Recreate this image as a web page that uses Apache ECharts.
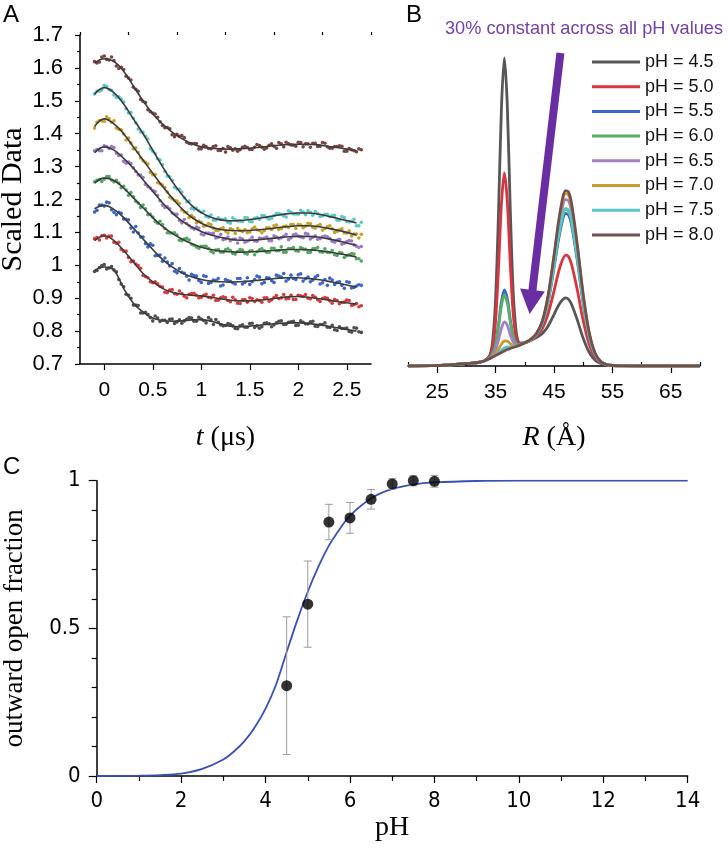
<!DOCTYPE html>
<html><head><meta charset="utf-8">
<script src="https://cdn.jsdelivr.net/npm/echarts@6/dist/echarts.min.js"></script>
<style>html,body{margin:0;padding:0;background:#fff}#c{width:728px;height:860px}</style>
</head><body><div id="c"></div>
<script>
// ---------- Panel A: DEER traces ----------
const tFit = [-0.1,0,0.1,0.2,0.3,0.4,0.5,0.6,0.7,0.8,0.9,1.0,1.1,1.2,1.3,1.4,1.5,1.6,1.7,1.8,1.9,2.0,2.1,2.2,2.3,2.4,2.5,2.6];
const tDots = [-0.1,-0.05,0,0.05,0.1,0.15,0.2,0.25,0.3,0.35,0.4,0.45,0.5,0.55,0.6,0.65,0.7,0.75,0.8,0.85,0.9,0.95,1.0,1.05,1.1,1.15,1.2,1.25,1.3,1.35,1.4,1.45,1.5,1.55,1.6,1.65,1.7,1.75,1.8,1.85,1.9,1.95,2.0,2.05,2.1,2.15,2.2,2.25,2.3,2.35,2.4,2.45,2.5,2.55,2.6,2.65];
const tDots2 = [-0.075,-0.025,0.025,0.075,0.125,0.175,0.225,0.275,0.325,0.375,0.425,0.475,0.525,0.575,0.625,0.675,0.725,0.775,0.825,0.875,0.925,0.975,1.025,1.075,1.125,1.175,1.225,1.275,1.325,1.375,1.425,1.475,1.525,1.575,1.625,1.675,1.725,1.775,1.825,1.875,1.925,1.975,2.025,2.075,2.125,2.175,2.225,2.275,2.325,2.375,2.425,2.475,2.525,2.575,2.625];
const tTicks = [0,0.5,1,1.5,2,2.5];
const tMinor = [-0.25,0.25,0.75,1.25,1.75,2.25,2.75];

const fit80 = [1.615,1.628,1.62,1.59,1.545,1.50,1.46,1.43,1.405,1.385,1.37,1.36,1.356,1.354,1.353,1.354,1.356,1.359,1.362,1.365,1.367,1.368,1.368,1.366,1.362,1.358,1.353,1.348];
const fit75 = [1.52,1.54,1.525,1.49,1.445,1.40,1.35,1.30,1.255,1.215,1.182,1.16,1.146,1.138,1.135,1.136,1.139,1.143,1.148,1.153,1.157,1.159,1.159,1.156,1.15,1.143,1.136,1.129];
const fit70 = [1.422,1.445,1.43,1.40,1.36,1.32,1.28,1.24,1.205,1.172,1.146,1.128,1.116,1.109,1.106,1.105,1.106,1.108,1.111,1.115,1.118,1.12,1.12,1.118,1.113,1.107,1.10,1.092];
const fit65 = [1.342,1.36,1.35,1.325,1.295,1.26,1.225,1.19,1.16,1.135,1.117,1.103,1.092,1.085,1.079,1.076,1.076,1.078,1.081,1.084,1.087,1.088,1.088,1.086,1.081,1.075,1.068,1.061];
const fit60 = [1.25,1.265,1.258,1.235,1.205,1.175,1.145,1.118,1.097,1.08,1.066,1.055,1.048,1.043,1.041,1.04,1.041,1.042,1.044,1.046,1.048,1.048,1.047,1.045,1.041,1.036,1.031,1.025];
const fit55 = [1.172,1.182,1.17,1.145,1.113,1.08,1.048,1.018,0.995,0.977,0.965,0.957,0.952,0.95,0.949,0.95,0.952,0.955,0.958,0.961,0.962,0.962,0.96,0.957,0.952,0.946,0.94,0.934];
const fit50 = [1.075,1.09,1.075,1.045,1.01,0.975,0.95,0.93,0.918,0.912,0.909,0.907,0.903,0.898,0.894,0.892,0.892,0.894,0.897,0.901,0.904,0.905,0.903,0.899,0.895,0.89,0.886,0.882];
const fit45 = [0.985,0.995,0.985,0.93,0.885,0.858,0.84,0.832,0.83,0.831,0.834,0.835,0.83,0.822,0.815,0.813,0.815,0.818,0.821,0.823,0.825,0.825,0.823,0.82,0.815,0.81,0.805,0.80];

const dots80 = [1.619,1.618,1.636,1.624,1.622,1.598,1.595,1.569,1.541,1.529,1.498,1.473,1.463,1.45,1.425,1.419,1.397,1.398,1.394,1.374,1.369,1.37,1.354,1.361,1.354,1.363,1.349,1.344,1.357,1.354,1.351,1.362,1.352,1.359,1.364,1.353,1.365,1.362,1.373,1.36,1.369,1.365,1.374,1.36,1.369,1.371,1.361,1.373,1.36,1.356,1.361,1.362,1.347,1.351,1.345,1.351];
const dots80b = [1.615,1.633,1.626,1.633,1.606,1.602,1.575,1.563,1.535,1.504,1.495,1.467,1.46,1.436,1.418,1.415,1.391,1.392,1.388,1.37,1.37,1.354,1.365,1.355,1.361,1.349,1.355,1.361,1.35,1.347,1.359,1.358,1.352,1.367,1.359,1.357,1.369,1.356,1.369,1.374,1.366,1.362,1.373,1.369,1.359,1.371,1.362,1.371,1.356,1.361,1.363,1.347,1.355,1.348,1.354];
const dots75 = [1.521,1.529,1.547,1.534,1.518,1.512,1.496,1.463,1.447,1.414,1.404,1.384,1.347,1.324,1.306,1.271,1.258,1.232,1.223,1.193,1.173,1.174,1.161,1.149,1.153,1.137,1.14,1.141,1.128,1.138,1.135,1.145,1.133,1.143,1.14,1.151,1.14,1.151,1.157,1.15,1.166,1.156,1.155,1.162,1.166,1.152,1.157,1.15,1.155,1.151,1.137,1.148,1.133,1.134,1.12,1.131];
const dots75b = [1.53,1.533,1.544,1.532,1.51,1.505,1.476,1.465,1.433,1.405,1.392,1.354,1.34,1.32,1.285,1.269,1.237,1.231,1.205,1.195,1.17,1.166,1.164,1.146,1.137,1.144,1.139,1.131,1.144,1.135,1.133,1.144,1.132,1.145,1.151,1.145,1.143,1.157,1.155,1.147,1.162,1.156,1.167,1.154,1.161,1.163,1.148,1.155,1.148,1.152,1.137,1.145,1.132,1.14,1.12];
const dots70 = [1.417,1.44,1.437,1.445,1.439,1.413,1.399,1.387,1.354,1.343,1.318,1.308,1.275,1.251,1.244,1.223,1.202,1.195,1.168,1.16,1.151,1.129,1.131,1.12,1.124,1.106,1.111,1.104,1.112,1.097,1.106,1.109,1.101,1.116,1.106,1.105,1.114,1.12,1.109,1.118,1.115,1.124,1.124,1.114,1.128,1.116,1.12,1.107,1.118,1.111,1.103,1.111,1.098,1.089,1.095,1.094];
const dots70b = [1.435,1.439,1.451,1.435,1.417,1.412,1.381,1.372,1.357,1.326,1.313,1.282,1.276,1.248,1.236,1.207,1.197,1.188,1.162,1.145,1.145,1.134,1.119,1.127,1.113,1.106,1.114,1.098,1.108,1.112,1.103,1.099,1.111,1.108,1.099,1.114,1.109,1.122,1.111,1.119,1.124,1.112,1.123,1.119,1.126,1.113,1.124,1.112,1.12,1.1,1.108,1.098,1.104,1.095,1.083];
const dots65 = [1.348,1.348,1.363,1.355,1.358,1.334,1.316,1.314,1.296,1.275,1.267,1.239,1.227,1.212,1.183,1.178,1.159,1.155,1.129,1.127,1.114,1.116,1.095,1.098,1.096,1.083,1.094,1.08,1.075,1.08,1.083,1.07,1.077,1.074,1.083,1.083,1.075,1.09,1.081,1.088,1.078,1.093,1.089,1.084,1.095,1.085,1.079,1.087,1.087,1.073,1.077,1.064,1.072,1.074,1.058,1.057];
const dots65b = [1.352,1.348,1.361,1.361,1.341,1.335,1.31,1.309,1.285,1.274,1.246,1.235,1.224,1.196,1.176,1.172,1.156,1.136,1.139,1.12,1.11,1.113,1.092,1.098,1.097,1.085,1.078,1.086,1.079,1.068,1.08,1.073,1.085,1.073,1.081,1.086,1.075,1.086,1.084,1.094,1.083,1.095,1.086,1.097,1.08,1.09,1.081,1.089,1.081,1.07,1.079,1.067,1.075,1.062,1.054];
const dots60 = [1.254,1.261,1.262,1.27,1.254,1.25,1.24,1.213,1.208,1.189,1.183,1.154,1.147,1.128,1.124,1.099,1.098,1.092,1.075,1.082,1.064,1.056,1.058,1.058,1.042,1.046,1.04,1.047,1.045,1.034,1.048,1.037,1.043,1.032,1.047,1.044,1.04,1.052,1.044,1.04,1.051,1.054,1.043,1.05,1.039,1.05,1.054,1.04,1.04,1.045,1.03,1.037,1.029,1.036,1.02,1.013];
const dots60b = [1.258,1.255,1.27,1.259,1.258,1.236,1.229,1.221,1.195,1.176,1.172,1.155,1.133,1.134,1.112,1.098,1.099,1.076,1.08,1.077,1.061,1.052,1.058,1.051,1.038,1.048,1.04,1.05,1.036,1.042,1.046,1.034,1.044,1.041,1.05,1.039,1.052,1.044,1.056,1.04,1.051,1.044,1.054,1.049,1.04,1.051,1.041,1.05,1.039,1.032,1.039,1.024,1.032,1.034,1.02];
const dots55 = [1.162,1.183,1.18,1.19,1.161,1.161,1.141,1.138,1.101,1.098,1.086,1.056,1.061,1.03,1.012,1.01,1.005,0.977,0.979,0.967,0.973,0.967,0.948,0.966,0.948,0.954,0.937,0.957,0.951,0.943,0.96,0.948,0.942,0.957,0.964,0.948,0.961,0.948,0.967,0.975,0.958,0.96,0.971,0.952,0.964,0.955,0.969,0.947,0.939,0.955,0.948,0.939,0.95,0.931,0.937,0.939];
const dots55b = [1.167,1.183,1.192,1.169,1.154,1.158,1.14,1.113,1.118,1.086,1.066,1.065,1.029,1.031,1.022,0.998,0.982,0.99,0.976,0.955,0.969,0.954,0.968,0.945,0.955,0.96,0.94,0.954,0.947,0.96,0.943,0.962,0.95,0.967,0.944,0.962,0.953,0.97,0.964,0.952,0.97,0.957,0.974,0.959,0.95,0.964,0.943,0.957,0.961,0.942,0.95,0.93,0.948,0.933,0.941];
const dots50 = [1.081,1.077,1.091,1.089,1.07,1.07,1.043,1.024,1.013,0.999,0.969,0.962,0.947,0.944,0.934,0.917,0.926,0.912,0.914,0.901,0.914,0.909,0.903,0.912,0.901,0.893,0.901,0.902,0.889,0.895,0.884,0.896,0.901,0.89,0.893,0.901,0.891,0.902,0.899,0.911,0.899,0.896,0.909,0.905,0.9,0.908,0.895,0.899,0.9,0.885,0.893,0.887,0.894,0.878,0.884,0.877];
const dots50b = [1.084,1.09,1.083,1.089,1.067,1.049,1.043,1.011,1.004,0.991,0.966,0.95,0.95,0.936,0.918,0.925,0.914,0.922,0.906,0.912,0.915,0.901,0.909,0.903,0.909,0.894,0.904,0.893,0.903,0.885,0.895,0.888,0.899,0.895,0.888,0.901,0.895,0.908,0.901,0.898,0.909,0.896,0.907,0.911,0.898,0.903,0.89,0.902,0.892,0.896,0.883,0.888,0.893,0.88,0.874];
const dots45 = [0.981,0.993,1.002,0.992,0.986,0.957,0.935,0.909,0.879,0.878,0.855,0.85,0.831,0.84,0.833,0.826,0.837,0.828,0.824,0.836,0.84,0.83,0.837,0.825,0.834,0.835,0.819,0.817,0.821,0.808,0.816,0.812,0.823,0.811,0.809,0.824,0.822,0.819,0.83,0.82,0.827,0.83,0.818,0.827,0.822,0.83,0.814,0.82,0.812,0.818,0.802,0.808,0.809,0.797,0.809,0.796];
const dots45b = [0.984,0.999,0.989,0.996,0.98,0.943,0.912,0.9,0.879,0.855,0.857,0.841,0.846,0.829,0.833,0.836,0.823,0.834,0.831,0.841,0.83,0.842,0.832,0.841,0.82,0.827,0.816,0.823,0.816,0.807,0.819,0.812,0.824,0.816,0.813,0.825,0.813,0.825,0.831,0.821,0.828,0.817,0.831,0.822,0.828,0.815,0.82,0.825,0.811,0.804,0.813,0.808,0.799,0.81,0.798];

// ---------- Panel B: distance distributions ----------
const rGrid = [20,24,27,29,31,32,33,34,34.5,35,35.5,36,36.5,37,37.5,38,38.5,39,40,41,42,43,44,45,46,47,47.5,48,49,50,51,52,53,54,55,57,60,65,70];
const rTicks = [25,35,45,55,65];
const rMinor = [20,30,40,50,60,70];
const dist45 = [0,0.3,1,2,2.8,3.5,5,10.7,25.1,67.6,153.8,257.9,308,260.9,159.3,75.6,35.6,23.7,23.1,25.5,28.4,32.4,40,51.4,62.8,68.1,66.6,61.7,45.9,27.7,14,6,2.5,1,0.4,0.1,0,0,0];
const dist50 = [0,0.3,1,2,2.8,3.5,5,9.5,18.8,45.2,98.2,162,193,165,103.7,53.2,29.3,22.5,23.2,25.9,30.1,37.4,52.3,74.9,98.5,110.8,109.3,101.9,75.7,45.2,22.1,8.9,3.3,1.2,0.5,0.1,0,0,0];
const dist55 = [0,0.3,1,2,2.8,3.5,5,8.2,12.4,22.4,41.5,64.4,76,67.4,47,30.4,22.9,21.2,23.3,26.3,31.7,42.3,64.3,97.9,133.4,152.5,151,141.2,104.9,62.2,29.9,11.7,4.2,1.4,0.5,0.1,0,0,0];
const dist60 = [0,0.3,1,2,2.8,3.5,5,8.1,12.1,21.4,39.1,60.2,71,63.2,44.6,29.4,22.6,21.1,23.3,26.3,31.8,42.7,65.4,100.1,136.7,156.5,155,144.9,107.7,63.8,30.7,12,4.2,1.4,0.5,0.1,0,0,0];
const dist65 = [0,0.3,1,2,2.8,3.5,5,7.8,10.6,16.2,26,37.7,44,40.7,31.5,24.2,21.1,20.8,23.3,26.4,32.2,43.9,68.3,105.6,145,166.5,165,154.3,114.6,67.9,32.6,12.7,4.4,1.5,0.5,0.1,0,0,0];
const dist70 = [0,0.3,1,2,2.8,3.5,5,7.6,9.6,12.5,16.8,21.8,25,24.8,22.3,20.5,20.1,20.6,23.3,26.5,32.4,44.6,70,108.8,150,172.4,170.9,159.9,118.8,70.3,33.7,13.1,4.5,1.5,0.5,0.1,0,0,0];
const dist75 = [0,0.3,1,2,2.8,3.5,5,7.5,9.2,11.1,13.5,16,18,19,19,19.1,19.7,20.5,23.3,26.4,31.9,42.9,65.7,100.6,137.5,157.5,156,145.8,108.4,64.2,30.9,12.1,4.2,1.4,0.5,0.1,0,0,0];
const dist80 = [0,0.3,1,2,2.8,3.5,5,7.5,9,10.5,12,13.5,15,16.5,17.5,18.5,19.5,20.5,23.3,26.5,32.5,44.9,70.8,110.5,152.5,175.4,173.9,162.7,120.8,71.6,34.2,13.3,4.6,1.5,0.5,0.1,0,0,0];
const legendNames = ['pH = 4.5','pH = 5.0','pH = 5.5','pH = 6.0','pH = 6.5','pH = 7.0','pH = 7.5','pH = 8.0'];

// ---------- Panel C: outward open fraction ----------
const pHpts = [4.5,5,5.5,6,6.5,7,7.5,8];
const fracPts = [0.306,0.582,0.86,0.874,0.937,0.989,1.0,0.998];
const fracErr = [0.233,0.146,0.06,0.052,0.033,0.018,0.017,0.02];
const pHfit = [0,0.5,1,1.5,2,2.5,3,3.25,3.5,3.75,4,4.25,4.5,4.75,5,5.25,5.5,5.75,6,6.5,7,7.5,8,9,10,11,12,13,14];
const fracFit = [0,0.0005,0.001,0.003,0.008,0.024,0.056,0.083,0.118,0.166,0.228,0.31,0.42,0.527,0.624,0.708,0.78,0.835,0.882,0.94,0.972,0.987,0.994,0.999,1,1,1,1,1];

const colors = ['#575757','#d8353d','#3c69c0','#5aae68','#a281c8','#c99a2c','#5cc4c8','#73504c'];
const dotColors = ['#4f4f4f','#d83a3a','#3c64c4','#52a85e','#9a7ac8','#c9a02a','#5cc8c8','#7a4440'];

const pairs = (xs, ys) => xs.map((x, i) => [x, ys[i]]);
const dotSets = [[dots45,dots45b],[dots50,dots50b],[dots55,dots55b],[dots60,dots60b],[dots65,dots65b],[dots70,dots70b],[dots75,dots75b],[dots80,dots80b]];
const fitSets = [fit45,fit50,fit55,fit60,fit65,fit70,fit75,fit80];
const distSets = [dist45,dist50,dist55,dist60,dist65,dist70,dist75,dist80];

const sans = 'Liberation Sans, Arial, sans-serif';
const serif = 'Liberation Serif, Times New Roman, serif';
const narrow = 'Liberation Sans Narrow, DejaVu Sans Condensed, Arial Narrow, sans-serif';
const axisLine = {show:true, onZero:false, lineStyle:{color:'#000', width:1.5}};

const series = [];
dotSets.forEach((d, k) => series.push({
  type:'scatter', xAxisIndex:0, yAxisIndex:0, name:'A'+k,
  data:pairs(tDots, d[0]).concat(pairs(tDots2, d[1])),
  symbolSize:3.6, itemStyle:{color:dotColors[k], opacity:1}, silent:true, z:2
}));
fitSets.forEach((d, k) => series.push({
  type:'line', xAxisIndex:0, yAxisIndex:0, name:'F'+k, data:pairs(tFit, d), smooth:0.4,
  showSymbol:false, lineStyle:{color:'#3b3b3b', width:1.6}, silent:true, z:3
}));
distSets.forEach((d, k) => {
  const s = {type:'line', xAxisIndex:2, yAxisIndex:1, name:legendNames[k], data:pairs(rGrid, d),
    smooth:0.3, showSymbol:false, color:colors[k], lineStyle:{color:colors[k], width:2.8}, silent:true, z:3+k*0.1};
  if (k === 7) {
    s.markLine = {silent:true, symbol:['none','triangle'], symbolSize:[25,24], animation:false,
      label:{show:false}, lineStyle:{color:'#6a2ea3', width:8, type:'solid', opacity:1},
      itemStyle:{color:'#6a2ea3'},
      data:[[{coord:[46.1, 313]}, {coord:[41.07, 64]}]]};
  }
  series.push(s);
});
series.push({type:'line', xAxisIndex:4, yAxisIndex:2, name:'fit', data:pairs(pHfit, fracFit), smooth:0.3,
  showSymbol:false, lineStyle:{color:'#3a50b2', width:1.8}, silent:true, z:3});
series.push({type:'custom', xAxisIndex:4, yAxisIndex:2, name:'err',
  data: pHpts.map((x, i) => [x, fracPts[i]-fracErr[i], fracPts[i]+fracErr[i]]),
  renderItem: (params, api) => {
    const x = api.value(0);
    const lo = api.coord([x, api.value(1)]), hi = api.coord([x, api.value(2)]);
    const w = 4, st = {stroke:'#9c9c9c', lineWidth:1};
    return {type:'group', children:[
      {type:'line', shape:{x1:lo[0], y1:lo[1], x2:hi[0], y2:hi[1]}, style:st},
      {type:'line', shape:{x1:lo[0]-w, y1:lo[1], x2:lo[0]+w, y2:lo[1]}, style:st},
      {type:'line', shape:{x1:hi[0]-w, y1:hi[1], x2:hi[0]+w, y2:hi[1]}, style:st}]};
  }, z:4, silent:true});
series.push({type:'scatter', xAxisIndex:4, yAxisIndex:2, name:'pts', data:pairs(pHpts, fracPts),
  symbolSize:11, itemStyle:{color:'#000'}, z:5, silent:true});

const titleStyle = {fontSize:24, fontWeight:'normal', color:'#000', fontFamily:sans};
const option = {
  animation:false,
  backgroundColor:'#fff',
  title:[
    {text:'A', left:3, top:3, padding:0, textStyle:titleStyle},
    {text:'B', left:406, top:3, padding:0, textStyle:titleStyle},
    {text:'C', left:3, top:455, padding:0, textStyle:titleStyle},
    {text:'30% constant across all pH values', left:445, top:20, padding:0,
     textStyle:{fontSize:18.2, fontWeight:'normal', color:'#7441a8', fontFamily:sans}}
  ],
  legend:{data:legendNames, orient:'vertical', left:587, top:47, itemWidth:48, itemHeight:3, itemGap:4.7,
    icon:'rect', selectedMode:false, textStyle:{fontSize:18, lineHeight:20, color:'#111', fontFamily:sans}},
  grid:[
    {left:80, top:35, width:291, height:329, containLabel:false, outerBoundsMode:'none'},
    {left:408, top:35, width:292, height:331, containLabel:false, outerBoundsMode:'none'},
    {left:96.7, top:480.7, width:591, height:295.3, containLabel:false, outerBoundsMode:'none'}
  ],
  xAxis:[
    {gridIndex:0, type:'value', min:-0.25, max:2.75, axisLine:axisLine, splitLine:{show:false},
     axisTick:{customValues:tTicks, length:6, lineStyle:{color:'#000', width:1.2}},
     axisLabel:{customValues:tTicks, fontSize:21, color:'#000', fontFamily:sans, margin:16},
     name:'{i|t} (μs)', nameLocation:'middle', nameGap:60,
     nameTextStyle:{fontSize:28, fontFamily:serif, color:'#000', rich:{i:{fontStyle:'italic', fontSize:28, fontFamily:serif}}}},
    {gridIndex:0, type:'value', min:-0.25, max:2.75, axisLine:{show:false}, splitLine:{show:false},
     axisTick:{customValues:tMinor, length:3, lineStyle:{color:'#000', width:1.2}}, axisLabel:{show:false}},
    {gridIndex:1, type:'value', min:20, max:70, axisLine:axisLine, splitLine:{show:false},
     axisTick:{customValues:rTicks, length:7, lineStyle:{color:'#000', width:1.2}},
     axisLabel:{customValues:rTicks, fontSize:21, color:'#000', fontFamily:sans, margin:16},
     name:'{i|R} (Å)', nameLocation:'middle', nameGap:58,
     nameTextStyle:{fontSize:28, fontFamily:serif, color:'#000', rich:{i:{fontStyle:'italic', fontSize:28, fontFamily:serif}}}},
    {gridIndex:1, type:'value', min:20, max:70, axisLine:{show:false}, splitLine:{show:false},
     axisTick:{customValues:rMinor, length:4, lineStyle:{color:'#000', width:1.2}}, axisLabel:{show:false}},
    {gridIndex:2, type:'value', min:0, max:14, interval:2, axisLine:axisLine, splitLine:{show:false},
     axisTick:{length:7, lineStyle:{color:'#000', width:1.2}},
     minorTick:{show:true, splitNumber:2, length:5, lineStyle:{color:'#000', width:1.2}},
     axisLabel:{fontSize:22, color:'#000', fontFamily:narrow, margin:14},
     name:'pH', nameLocation:'middle', nameGap:38,
     nameTextStyle:{fontSize:28, fontFamily:serif, color:'#000'}}
  ],
  yAxis:[
    {gridIndex:0, type:'value', min:0.7, max:1.7, interval:0.1, axisLine:axisLine, splitLine:{show:false},
     axisTick:{length:5, lineStyle:{color:'#000', width:1.2}},
     minorTick:{show:true, splitNumber:2, length:3, lineStyle:{color:'#000', width:1.2}},
     axisLabel:{fontSize:22, color:'#000', fontFamily:sans, margin:17},
     name:'Scaled Data', nameLocation:'middle', nameGap:49, nameRotate:90,
     nameTextStyle:{fontSize:30, fontFamily:serif, color:'#000'}},
    {gridIndex:1, type:'value', min:0, max:331, show:false},
    {gridIndex:2, type:'value', min:0, max:1, interval:0.5, axisLine:axisLine, splitLine:{show:false},
     axisTick:{length:8, lineStyle:{color:'#000', width:1.2}},
     minorTick:{show:true, splitNumber:5, length:5, lineStyle:{color:'#000', width:1.2}},
     axisLabel:{fontSize:22, color:'#000', fontFamily:narrow, margin:16},
     name:'outward open fraction', nameLocation:'middle', nameGap:68, nameRotate:90,
     nameTextStyle:{fontSize:27, fontFamily:serif, color:'#000'}}
  ],
  series:series
};
const chart = echarts.init(document.getElementById('c'), null, {renderer:'canvas'});
chart.setOption(option);
</script>
</body></html>
